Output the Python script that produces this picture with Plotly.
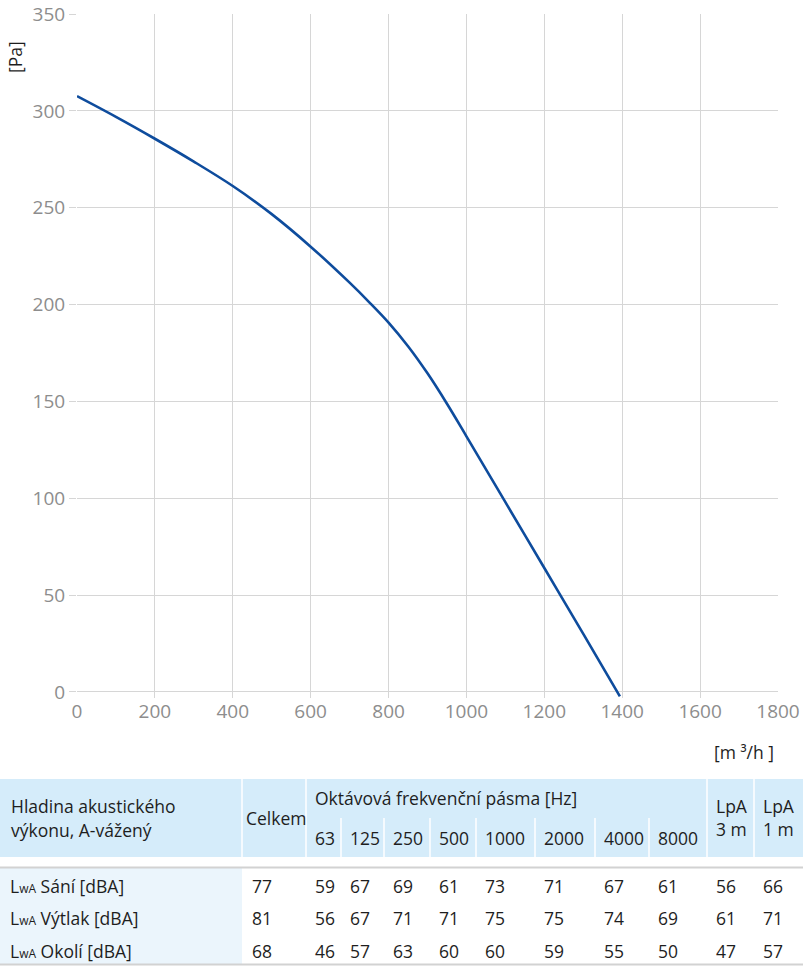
import plotly.graph_objects as go

# ---------------- data ----------------
flow = [0, 100, 200, 300, 400, 500, 600, 700, 750, 800, 850, 900, 950, 1000, 1100, 1200, 1300, 1394]
pressure = [307.6, 296.9, 285.6, 273.8, 261.2, 246.7, 229.9, 211.3, 201.3, 190.7, 178.5, 164.5,
            148.8, 132.0, 98.0, 64.0, 30.0, -2.3]

x_ticks = [0, 200, 400, 600, 800, 1000, 1200, 1400, 1600, 1800]
y_ticks = [0, 50, 100, 150, 200, 250, 300, 350]

header_label = ["Hladina akustického", "výkonu, A-vážený"]
header_total = "Celkem"
header_group = "Oktávová frekvenční pásma [Hz]"
bands = ["63", "125", "250", "500", "1000", "2000", "4000", "8000"]
header_lpa = [["LpA", "3 m"], ["LpA", "1 m"]]

row_names = ["Sání [dBA]", "Výtlak [dBA]", "Okolí [dBA]"]
total = [77, 81, 68]
octave = [
    [59, 67, 69, 61, 73, 71, 67, 61],
    [56, 67, 71, 71, 75, 75, 74, 69],
    [46, 57, 63, 60, 60, 59, 55, 50],
]
lpa_3m = [56, 61, 47]
lpa_1m = [66, 71, 57]

# ---------------- layout helpers ----------------
W, H = 803, 966
ML, MR, MT, MB = 77, 25, 14, 268
PW, PH = W - ML - MR, H - MT - MB
FONT = "Open Sans"
HEAD_BG = "#d5ecfa"
LEFT_BG = "#ebf5fc"
TXT = "#1e1e1e"
FS = 17.5


def px_x(px):
    return (px - ML) / PW


def px_y(py):
    return (H - MB - py) / PH


fig = go.Figure()
fig.add_trace(go.Scatter(
    x=flow, y=pressure, mode="lines",
    line=dict(color="#0e4c9d", width=2.6, shape="spline", smoothing=1.0),
    hoverinfo="skip", showlegend=False,
))

shapes = []
annotations = []


def rect(x0, y0, x1, y1, color):
    shapes.append(dict(type="rect", xref="paper", yref="paper",
                       x0=px_x(x0), x1=px_x(x1), y0=px_y(y0), y1=px_y(y1),
                       fillcolor=color, line=dict(width=0), layer="above"))


def line(x0, y0, x1, y1, color, width):
    shapes.append(dict(type="line", xref="paper", yref="paper",
                       x0=px_x(x0), x1=px_x(x1), y0=px_y(y0), y1=px_y(y1),
                       line=dict(color=color, width=width), layer="above"))


def text(px, py, s, size=FS, color=TXT, xanchor="left", angle=0):
    annotations.append(dict(xref="paper", yref="paper", x=px_x(px), y=px_y(py),
                            text=s, showarrow=False, xanchor=xanchor, yanchor="middle",
                            textangle=angle,
                            font=dict(family=FONT, size=size, color=color)))


# axis unit labels
text(15, 57, "[Pa]", size=17.5, color=TXT, xanchor="center", angle=-90)
text(744, 752, "[m ³/h ]", size=17.5, color=TXT, xanchor="center")

# table geometry (pixel edges of columns)
col_edges = [0, 242, 306, 341, 384, 430, 476, 535, 595, 649, 707, 754, 803]
HT, HM, HB = 779, 818, 857
BT, BB = 868, 964
row_y = [885.5, 918, 950.5]
PAD = 7

# header background and separators
rect(0, HT, W, HB, HEAD_BG)
rect(0, BT, col_edges[1], BB, LEFT_BG)
for i, e in enumerate(col_edges[1:-1], start=1):
    if 3 <= i <= 9:
        line(e, HM, e, HB, "white", 1.5)
    else:
        line(e, HT, e, HB, "white", 1.5)
line(0, 867.5, W, 867.5, "#d2d2d2", 2)
line(0, 964.5, W, 964.5, "#d2d2d2", 2)

# header texts
text(9, 806, header_label[0])
text(9, 830, header_label[1])
text(244, 818, header_total)
text(col_edges[2] + PAD, 798, header_group)
for i, b in enumerate(bands):
    text(col_edges[2 + i] + PAD, 838, b)
for j, (a, b) in enumerate(header_lpa):
    text(col_edges[10 + j] + PAD, 806, a)
    text(col_edges[10 + j] + PAD, 829, b)

# body texts
for r, name in enumerate(row_names):
    y = row_y[r]
    text(8, y, "L<span style='font-size:12px'>wA</span> " + name)
    text(col_edges[1] + PAD + 1, y, str(total[r]))
    for i, v in enumerate(octave[r]):
        text(col_edges[2 + i] + PAD, y, str(v))
    text(col_edges[10] + PAD, y, str(lpa_3m[r]))
    text(col_edges[11] + PAD, y, str(lpa_1m[r]))

grid = "#d6d6d6"
tickfont = dict(family=FONT, size=19, color="#8d8d8d")
fig.update_layout(
    template="none",
    width=W, height=H,
    margin=dict(l=ML, r=MR, t=MT, b=MB, pad=0, autoexpand=False),
    paper_bgcolor="white", plot_bgcolor="white",
    showlegend=False,
    xaxis=dict(range=[0, 1800], tickvals=x_ticks, ticktext=[str(v) for v in x_ticks],
               showgrid=True, gridcolor=grid, gridwidth=1, zeroline=False, automargin=False,
               showline=False, ticks="", tickfont=tickfont, fixedrange=True),
    yaxis=dict(range=[-3.1, 350], tickvals=y_ticks, ticktext=[str(v) for v in y_ticks],
               showgrid=True, gridcolor=grid, gridwidth=1, zeroline=False, automargin=False,
               showline=False, ticks="outside", ticklen=7, tickcolor=grid, tickwidth=1,
               tickfont=tickfont, fixedrange=True),
    shapes=shapes,
    annotations=annotations,
)

fig.write_html("out.html")
